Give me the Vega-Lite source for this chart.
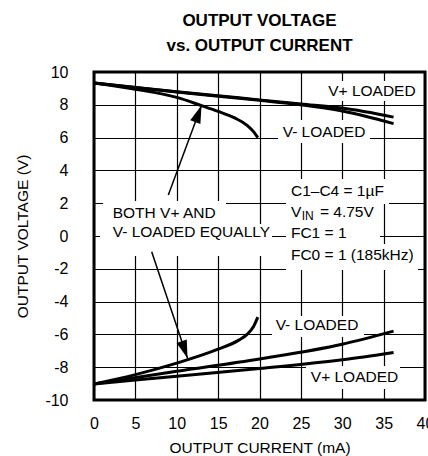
{
  "$schema": "https://vega.github.io/schema/vega-lite/v6.json",
  "width": 331,
  "height": 328,
  "autosize": {"type": "none"},
  "padding": {"left": 94, "top": 72, "right": 3, "bottom": 56},
  "background": "white",
  "config": {
    "view": {"stroke": "black", "strokeWidth": 3},
    "font": "Liberation Sans"
  },
  "title": {
    "text": ["OUTPUT VOLTAGE", "vs. OUTPUT CURRENT"],
    "font": "Liberation Sans",
    "fontSize": 17,
    "fontWeight": "bold",
    "lineHeight": 25,
    "anchor": "middle",
    "frame": "group",
    "offset": 9,
    "color": "black"
  },
  "datasets": {
    "boxes": [
      {"x1": 27.67, "x2": 39.15, "y1": 9.45, "y2": 8.23},
      {"x1": 22.24, "x2": 33.35, "y1": 7.07, "y2": 5.67},
      {"x1": 23.2, "x2": 35.65, "y1": 3.48, "y2": 1.95},
      {"x1": 23.2, "x2": 34.32, "y1": 1.95, "y2": 0.79},
      {"x1": 23.2, "x2": 34.56, "y1": 0.79, "y2": -0.49},
      {"x1": 23.2, "x2": 39.15, "y1": -0.49, "y2": -2.07},
      {"x1": 1.09, "x2": 15.95, "y1": 2.13, "y2": 0.73},
      {"x1": 0.73, "x2": 21.51, "y1": 0.73, "y2": -1.22},
      {"x1": 21.51, "x2": 32.63, "y1": -4.88, "y2": -6.16},
      {"x1": 25.62, "x2": 36.98, "y1": -7.93, "y2": -9.33}
    ],
    "curves": [
      {"series": "top V+ loaded", "x": 0, "y": 9.33},
      {"series": "top V+ loaded", "x": 5, "y": 9.05},
      {"series": "top V+ loaded", "x": 10, "y": 8.8},
      {"series": "top V+ loaded", "x": 15, "y": 8.55},
      {"series": "top V+ loaded", "x": 20, "y": 8.3},
      {"series": "top V+ loaded", "x": 25, "y": 8.05},
      {"series": "top V+ loaded", "x": 30, "y": 7.8},
      {"series": "top V+ loaded", "x": 36.2, "y": 7.25},
      {"series": "top V- loaded", "x": 0, "y": 9.33},
      {"series": "top V- loaded", "x": 5, "y": 9.05},
      {"series": "top V- loaded", "x": 10, "y": 8.78},
      {"series": "top V- loaded", "x": 15, "y": 8.52},
      {"series": "top V- loaded", "x": 20, "y": 8.27},
      {"series": "top V- loaded", "x": 25, "y": 8.0},
      {"series": "top V- loaded", "x": 30, "y": 7.62},
      {"series": "top V- loaded", "x": 36.2, "y": 6.85},
      {"series": "top equal", "x": 0, "y": 9.33},
      {"series": "top equal", "x": 5, "y": 8.95},
      {"series": "top equal", "x": 10, "y": 8.45},
      {"series": "top equal", "x": 13, "y": 7.95},
      {"series": "top equal", "x": 15, "y": 7.6},
      {"series": "top equal", "x": 17, "y": 7.2},
      {"series": "top equal", "x": 18.5, "y": 6.75},
      {"series": "top equal", "x": 19.3, "y": 6.35},
      {"series": "top equal", "x": 19.8, "y": 6.0},
      {"series": "bottom equal", "x": 0, "y": -9.02},
      {"series": "bottom equal", "x": 5, "y": -8.45},
      {"series": "bottom equal", "x": 10, "y": -7.75},
      {"series": "bottom equal", "x": 15, "y": -6.9},
      {"series": "bottom equal", "x": 17.5, "y": -6.35},
      {"series": "bottom equal", "x": 18.5, "y": -6.0},
      {"series": "bottom equal", "x": 19.3, "y": -5.5},
      {"series": "bottom equal", "x": 19.8, "y": -4.95},
      {"series": "bottom V- loaded", "x": 0, "y": -9.02},
      {"series": "bottom V- loaded", "x": 10, "y": -8.25},
      {"series": "bottom V- loaded", "x": 20, "y": -7.5},
      {"series": "bottom V- loaded", "x": 30, "y": -6.6},
      {"series": "bottom V- loaded", "x": 36.2, "y": -5.8},
      {"series": "bottom V+ loaded", "x": 0, "y": -9.02},
      {"series": "bottom V+ loaded", "x": 10, "y": -8.55},
      {"series": "bottom V+ loaded", "x": 20, "y": -8.08},
      {"series": "bottom V+ loaded", "x": 30, "y": -7.55},
      {"series": "bottom V+ loaded", "x": 36.2, "y": -7.1}
    ],
    "arrows": [
      {"arrow": "up", "part": "tail", "x": 8.98, "y": 2.5},
      {"arrow": "up", "part": "tip", "x": 13.0, "y": 7.97},
      {"arrow": "down", "part": "tail", "x": 6.97, "y": -0.96},
      {"arrow": "down", "part": "tip", "x": 11.3, "y": -7.45}
    ],
    "labels": [
      {"label": "V+ LOADED", "x": 28.3, "y": 8.86},
      {"label": "V- LOADED", "x": 22.8, "y": 6.36},
      {"label": "C1–C4 = 1µF", "x": 23.8, "y": 2.76},
      {"label": "V", "x": 23.8, "y": 1.48},
      {"label": "= 4.75V", "x": 27.3, "y": 1.48},
      {"label": "FC1 = 1", "x": 23.8, "y": 0.16},
      {"label": "FC0 = 1 (185kHz)", "x": 23.8, "y": -1.16},
      {"label": "BOTH V+ AND", "x": 2.26, "y": 1.42},
      {"label": "V- LOADED EQUALLY", "x": 2.26, "y": 0.26},
      {"label": "V- LOADED", "x": 21.95, "y": -5.43},
      {"label": "V+ LOADED", "x": 26.2, "y": -8.58}
    ],
    "subscripts": [
      {"label": "IN", "x": 25.1, "y": 1.48}
    ]
  },
  "layer": [
    {
      "data": {"name": "boxes"},
      "mark": {"type": "rect", "fill": "white", "stroke": null},
      "encoding": {
        "x": {
          "field": "x1", "type": "quantitative",
          "scale": {"domain": [0, 40], "nice": false, "zero": false},
          "axis": {
            "values": [0, 5, 10, 15, 20, 25, 30, 35, 40],
            "tickCount": 20,
            "title": "OUTPUT CURRENT (mA)",
            "grid": true, "gridColor": "black", "gridWidth": 1.2, "gridOpacity": 1,
            "domain": false, "ticks": false, "tickSize": 0,
            "labelPadding": 15, "labelFontSize": 16, "labelFont": "Liberation Sans",
            "labelColor": "black", "labelFlush": false, "labelOverlap": false,
            "titleFont": "Liberation Sans", "titleFontSize": 15.5, "titleFontWeight": "normal",
            "titleColor": "black", "titlePadding": 9
          }
        },
        "x2": {"field": "x2"},
        "y": {
          "field": "y1", "type": "quantitative",
          "scale": {"domain": [-10, 10], "nice": false, "zero": false},
          "axis": {
            "values": [-10, -8, -6, -4, -2, 0, 2, 4, 6, 8, 10],
            "tickCount": 20,
            "labelExpr": "replace(datum.label, '−', '-')",
            "title": "OUTPUT VOLTAGE (V)",
            "grid": true, "gridColor": "black", "gridWidth": 1.2, "gridOpacity": 1,
            "domain": false, "ticks": false, "tickSize": 0,
            "labelPadding": 26, "labelFontSize": 16, "labelFont": "Liberation Sans",
            "labelColor": "black", "labelFlush": false, "labelOverlap": false,
            "titleFont": "Liberation Sans", "titleFontSize": 15.5, "titleFontWeight": "normal",
            "titleColor": "black", "titlePadding": 14
          }
        },
        "y2": {"field": "y2"}
      }
    },
    {
      "data": {"name": "curves"},
      "mark": {"type": "line", "color": "black", "strokeWidth": 3, "interpolate": "monotone"},
      "encoding": {
        "x": {"field": "x", "type": "quantitative"},
        "y": {"field": "y", "type": "quantitative"},
        "detail": {"field": "series"}
      }
    },
    {
      "data": {"name": "arrows"},
      "mark": {"type": "line", "color": "black", "strokeWidth": 1.5},
      "encoding": {
        "x": {"field": "x", "type": "quantitative"},
        "y": {"field": "y", "type": "quantitative"},
        "detail": {"field": "arrow"}
      }
    },
    {
      "data": {"name": "arrows"},
      "transform": [{"filter": "datum.arrow === 'up' && datum.part === 'tip'"}],
      "mark": {"type": "point", "shape": "M0,0L-0.3,1L0.3,1Z", "filled": true, "color": "black", "opacity": 1, "size": 1296, "angle": 20.4},
      "encoding": {
        "x": {"field": "x", "type": "quantitative"},
        "y": {"field": "y", "type": "quantitative"}
      }
    },
    {
      "data": {"name": "arrows"},
      "transform": [{"filter": "datum.arrow === 'down' && datum.part === 'tip'"}],
      "mark": {"type": "point", "shape": "M0,0L-0.3,1L0.3,1Z", "filled": true, "color": "black", "opacity": 1, "size": 1296, "angle": 161.1},
      "encoding": {
        "x": {"field": "x", "type": "quantitative"},
        "y": {"field": "y", "type": "quantitative"}
      }
    },
    {
      "data": {"name": "labels"},
      "mark": {"type": "text", "align": "left", "baseline": "middle", "font": "Liberation Sans", "fontSize": 15.5, "color": "black"},
      "encoding": {
        "x": {"field": "x", "type": "quantitative"},
        "y": {"field": "y", "type": "quantitative"},
        "text": {"field": "label"}
      }
    },
    {
      "data": {"name": "subscripts"},
      "mark": {"type": "text", "align": "left", "baseline": "middle", "font": "Liberation Sans", "fontSize": 12, "dy": 4, "color": "black"},
      "encoding": {
        "x": {"field": "x", "type": "quantitative"},
        "y": {"field": "y", "type": "quantitative"},
        "text": {"field": "label"}
      }
    }
  ]
}
